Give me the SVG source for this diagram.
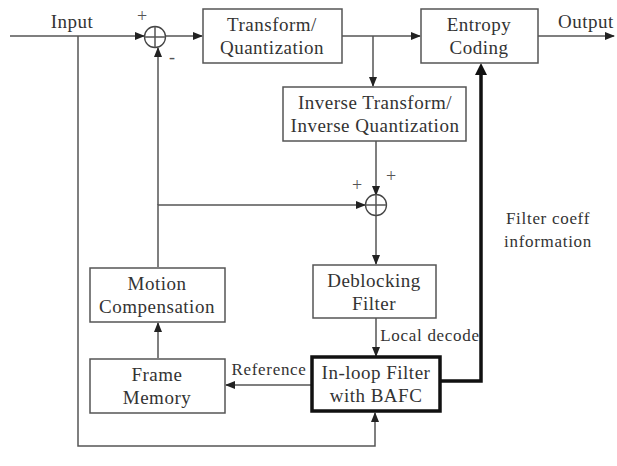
<svg xmlns="http://www.w3.org/2000/svg" width="617" height="466" viewBox="0 0 617 466" font-family="Liberation Serif, DejaVu Serif, serif">
<defs>
<marker id="ah" markerWidth="10" markerHeight="8" refX="9" refY="4" orient="auto" markerUnits="userSpaceOnUse"><path d="M0,0 L10,4 L0,8 z" fill="#222"/></marker>
</defs>
<style>
text{font-size:19px;fill:#333;text-anchor:middle;letter-spacing:0.5px}
.box{fill:#fff;stroke:#555;stroke-width:1.5}
.thick{fill:#fff;stroke:#111;stroke-width:3.5}
.ln{fill:none;stroke:#555;stroke-width:1.5}
.tl{fill:none;stroke:#111;stroke-width:3.5}
.sum{fill:#fff;stroke:#444;stroke-width:1.3}
.sm{font-size:17px;letter-spacing:0.7px}
.pm{font-size:18px;fill:#555;letter-spacing:0}
</style>
<rect width="617" height="466" fill="#fff"/>
<g id="connectors">
<line class="ln" x1="10" y1="36" x2="144" y2="36" marker-end="url(#ah)"/>
<polyline class="ln" points="78,36 78,446 375,446 375,413" marker-end="url(#ah)"/>
<line class="ln" x1="166" y1="36" x2="202" y2="36" marker-end="url(#ah)"/>
<line class="ln" x1="342" y1="36" x2="420" y2="36" marker-end="url(#ah)"/>
<line class="ln" x1="373" y1="36" x2="373" y2="86" marker-end="url(#ah)"/>
<line class="ln" x1="538" y1="36" x2="614" y2="36" marker-end="url(#ah)"/>
<line class="ln" x1="376" y1="141" x2="376" y2="195" marker-end="url(#ah)"/>
<polyline class="ln" points="158,267 158,205 365,205" marker-end="url(#ah)"/>
<line class="ln" x1="158" y1="205" x2="158" y2="48" marker-end="url(#ah)"/>
<line class="ln" x1="376" y1="216" x2="376" y2="264" marker-end="url(#ah)"/>
<line class="ln" x1="376" y1="318" x2="376" y2="356" marker-end="url(#ah)"/>
<line class="ln" x1="311" y1="385" x2="226" y2="385" marker-end="url(#ah)"/>
<line class="ln" x1="158" y1="358" x2="158" y2="323" marker-end="url(#ah)"/>
<polyline class="tl" points="441,381 481,381 481,73"/>
<path d="M475,75 L481,63 L487,75 z" fill="#111"/>
</g>
<g id="sum1">
<circle class="sum" cx="155" cy="37" r="10.5"/>
<line class="ln" x1="144.5" y1="37" x2="165.5" y2="37"/>
<line class="ln" x1="155" y1="26.5" x2="155" y2="47.5"/>
<text x="142" y="22" class="pm">+</text>
<text x="172" y="63" class="pm">-</text>
</g>
<g id="sum2">
<circle class="sum" cx="376" cy="205" r="10.5"/>
<line class="ln" x1="365.5" y1="205" x2="386.5" y2="205"/>
<line class="ln" x1="376" y1="194.5" x2="376" y2="215.5"/>
<text x="357" y="191" class="pm">+</text>
<text x="391" y="182" class="pm">+</text>
</g>
<g id="input"><text x="72" y="28">Input</text></g>
<g id="output"><text x="586" y="28">Output</text></g>
<g id="transform">
<rect class="box" x="203" y="9" width="139" height="54"/>
<text x="272" y="31">Transform/</text>
<text x="272" y="54">Quantization</text>
</g>
<g id="entropy">
<rect class="box" x="421" y="9" width="117" height="54"/>
<text x="479" y="31">Entropy</text>
<text x="479" y="54">Coding</text>
</g>
<g id="inverse">
<rect class="box" x="283" y="87" width="183" height="54"/>
<text x="375" y="109">Inverse Transform/</text>
<text x="375" y="132">Inverse Quantization</text>
</g>
<g id="motion">
<rect class="box" x="90" y="268" width="135" height="54"/>
<text x="157" y="290">Motion</text>
<text x="157" y="313">Compensation</text>
</g>
<g id="deblocking">
<rect class="box" x="313" y="265" width="123" height="53"/>
<text x="374" y="287">Deblocking</text>
<text x="374" y="310">Filter</text>
</g>
<g id="frame">
<rect class="box" x="90" y="359" width="135" height="54"/>
<text x="157" y="381">Frame</text>
<text x="157" y="404">Memory</text>
</g>
<g id="inloop">
<rect class="thick" x="312" y="357" width="128" height="54"/>
<text x="376" y="379">In-loop Filter</text>
<text x="376" y="402">with BAFC</text>
</g>
<g id="labels">
<text x="430" y="341" class="sm">Local decode</text>
<text x="269" y="375" class="sm">Reference</text>
<text x="548" y="224" class="sm">Filter coeff</text>
<text x="548" y="247" class="sm">information</text>
</g>
</svg>
